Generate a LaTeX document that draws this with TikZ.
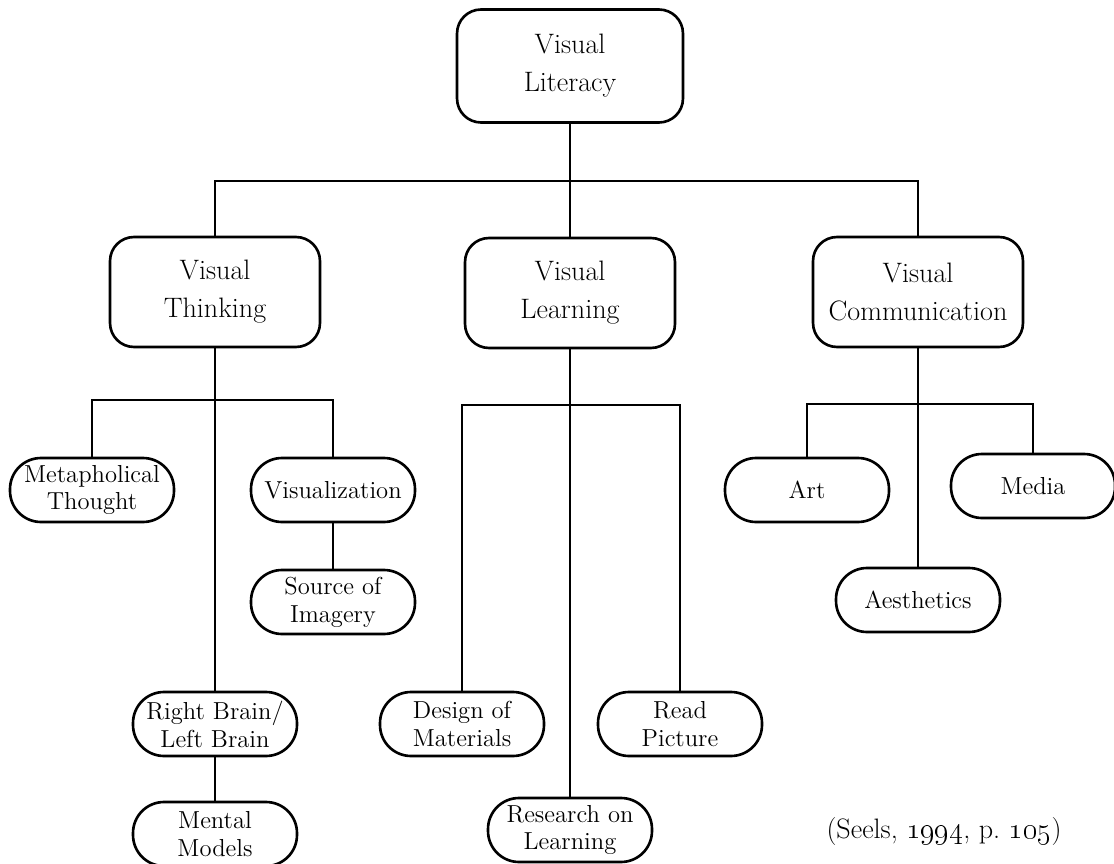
\documentclass[tikz,border=0pt]{standalone}
\usepackage{tikz}
\usetikzlibrary{positioning}

\begin{document}
\begin{tikzpicture}[x=0.02cm,y=-0.02cm,line width=1.5pt,
  box/.style={draw,rounded corners=0.48cm,align=center,inner sep=0pt,minimum width=4.2cm,minimum height=2.2cm,font=\fontsize{16}{21.6}\selectfont},
  pill/.style={draw,rounded corners=0.62cm,align=center,inner sep=0pt,minimum width=3.28cm,minimum height=1.28cm,font=\fontsize{14}{15.9}\selectfont}]
\useasboundingbox (0,0) rectangle (1114,864);
% root
\node[box,minimum width=4.52cm,minimum height=2.26cm] (lit) at (570,66) {Visual\\Literacy};
% second level
\node[box] (think) at (215,292) {Visual\\Thinking};
\node[box] (learn) at (570,293) {Visual\\Learning};
\node[box] (comm) at (918,292) {Visual\\Communication};
\coordinate (topbar) at (570,181);
\draw (lit) -- (topbar);
\draw (think) |- (topbar) -| (comm);
\draw (topbar) -- (learn);
% under visual thinking
\node[pill] (meta) at (92,490) {Metapholical\\Thought};
\node[pill] (visz) at (333,490) {Visualization};
\node[pill] (imag) at (333,602) {Source of\\Imagery};
\node[pill] (brain) at (215,724) {Right Brain/\\Left Brain};
\node[pill] (models) at (215,834) {Mental\\Models};
\coordinate (thinkbar) at (215,400);
\draw (think) -- (brain);
\draw (meta) |- (thinkbar) -| (visz);
\draw (visz) -- (imag);
\draw (brain) -- (models);
% under visual learning
\node[pill] (design) at (462,724) {Design of\\Materials};
\node[pill] (read) at (680,724) {Read\\Picture};
\node[pill] (research) at (570,830) {Research on\\Learning};
\coordinate (learnbar) at (570,405);
\draw (learn) -- (research);
\draw (design) |- (learnbar) -| (read);
% under visual communication
\node[pill] (art) at (807,490) {Art};
\node[pill] (media) at (1033,486) {Media};
\node[pill] (aes) at (918,600) {Aesthetics};
\coordinate (commbar) at (918,404);
\draw (comm) -- (aes);
\draw (art) |- (commbar) -| (media);
% source
\node[font=\fontsize{16}{18}\selectfont] (cite) at (944,831) {(Seels, \oldstylenums{1994}, p.~\oldstylenums{105})};
\end{tikzpicture}
\end{document}
